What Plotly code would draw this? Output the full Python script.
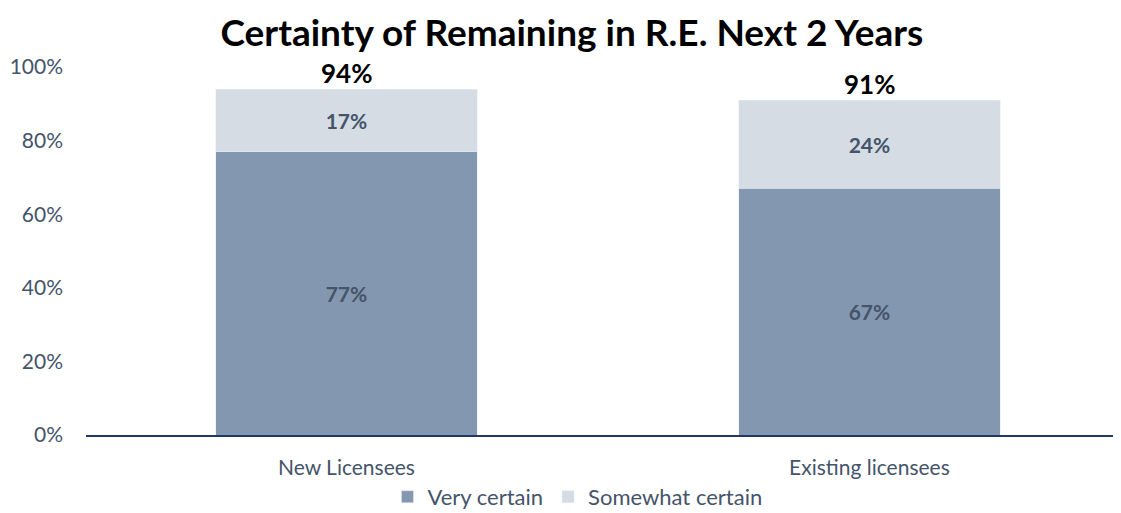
import plotly.graph_objects as go

categories = ["New Licensees", "Existing licensees"]
very_certain = [77, 67]
somewhat_certain = [17, 24]
totals = [94, 91]
y_ticks = [0, 20, 40, 60, 80, 100]

dark = "#8497B0"
light = "#D6DCE4"
txt = "#44546A"
font = "Lato, 'Open Sans', sans-serif"

fig = go.Figure()
fig.add_trace(go.Bar(
    name="Very certain", x=categories, y=very_certain, marker_color=dark,
    width=0.5, text=[f"{v}%" for v in very_certain], textposition="inside",
    insidetextanchor="middle",
    textfont=dict(color=txt, size=21, family=font, weight="bold"),
))
fig.add_trace(go.Bar(
    name="Somewhat certain", x=categories, y=somewhat_certain, marker_color=light,
    width=0.5, text=[f"{v}%" for v in somewhat_certain], textposition="inside",
    insidetextanchor="middle",
    textfont=dict(color=txt, size=21, family=font, weight="bold"),
))
for c, t in zip(categories, totals):
    fig.add_annotation(x=c, y=t, text=f"<b>{t}%</b>", showarrow=False,
                       yanchor="bottom", yshift=-2,
                       font=dict(size=26, color="black", family=font))

fig.update_layout(
    barmode="stack",
    width=1121, height=513,
    margin=dict(l=78, r=8, t=59, b=86),
    plot_bgcolor="white", paper_bgcolor="white",
    title=dict(text="<b>Certainty of Remaining in R.E. Next 2 Years</b>",
               x=0.503, xanchor="center", yref="container", y=0.952, yanchor="middle",
               font=dict(size=37, color="black", family=font)),
    font=dict(family=font, color=txt, size=21),
    legend=dict(orientation="h", xref="container", x=0.508, xanchor="center",
                yref="container", y=0.047, yanchor="middle",
                font=dict(size=22, color=txt, family=font), traceorder="normal",
                itemwidth=30),
    bargap=0.5,
)
fig.update_yaxes(range=[0, 100], tickvals=y_ticks, ticktext=[f"{v}%" for v in y_ticks],
                 showgrid=False, zeroline=False, showline=False, automargin=False,
                 tickfont=dict(size=21, color=txt), ticks="", ticklabelstandoff=22)
fig.update_xaxes(range=[-0.498, 1.481], showline=True, linecolor="#1F3864", linewidth=2,
                 automargin=False, ticklabelstandoff=13,
                 tickfont=dict(size=21, color=txt), ticks="")
fig.write_html("out.html")
